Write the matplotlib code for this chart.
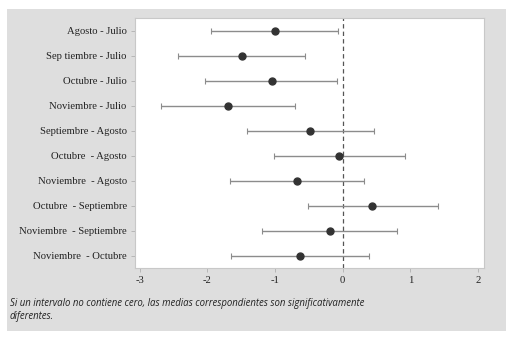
import matplotlib.pyplot as plt
from matplotlib.patches import Rectangle

# comparaciones (de arriba a abajo)
labels = ["Agosto - Julio", "Sep tiembre - Julio", "Octubre - Julio", "Noviembre - Julio",
          "Septiembre - Agosto", "Octubre  - Agosto", "Noviembre  - Agosto",
          "Octubre  - Septiembre", "Noviembre  - Septiembre", "Noviembre  - Octubre"]
diff = [-1.00, -1.49, -1.05, -1.69, -0.48, -0.05, -0.68, 0.44, -0.19, -0.63]
lower = [-1.94, -2.43, -2.04, -2.68, -1.42, -1.02, -1.67, -0.51, -1.19, -1.65]
upper = [-0.07, -0.55, -0.09, -0.71, 0.46, 0.92, 0.32, 1.41, 0.80, 0.39]
xticks = [-3, -2, -1, 0, 1, 2]
note = ("Si un intervalo no contiene cero, las medias correspondientes son significativamente\n"
        "diferentes.")

W, H = 516, 342
fig = plt.figure(figsize=(W / 100, H / 100), dpi=100)
fig.patch.set_facecolor("white")
fig.patches.append(Rectangle((7 / W, (H - 331) / H), 499 / W, 322 / H,
                             transform=fig.transFigure, facecolor="#dedede",
                             edgecolor="none", zorder=-10))

ax = fig.add_axes([135 / W, (H - 268) / H, 349 / W, 250 / H])
ax.set_facecolor("white")

y = list(range(len(labels)))
xerr = [[d - l for d, l in zip(diff, lower)], [u - d for d, u in zip(diff, upper)]]
ax.errorbar(diff, y, xerr=xerr, fmt="o", color="#333333", ms=5,
            ecolor="#8c8c8c", elinewidth=1.0, capsize=2.5, capthick=0.8, zorder=3)
ax.axvline(0, color="#555555", ls=(0, (3.5, 2.5)), lw=0.9, zorder=2)

ax.set_ylim(len(labels) - 0.5, -0.5)
ax.set_xlim(-3.07, 2.09)
ax.set_yticks(y)
ax.set_yticklabels(labels, fontfamily="Liberation Serif", fontsize=7.7, color="#222222")
ax.set_xticks(xticks)
ax.set_xticklabels([str(t) for t in xticks], fontfamily="Liberation Serif",
                   fontsize=7.7, color="#222222")
ax.tick_params(length=3, width=0.6, color="#b0b0b0", pad=3)
for s in ax.spines.values():
    s.set_color("#c8c8c8")
    s.set_linewidth(0.8)

fig.text(10 / W, (H - 298) / H, note, fontfamily="Open Sans", style="italic",
         fontsize=6.9, color="#222222", va="top", linespacing=1.25)

fig.savefig("out.png", dpi=100)
